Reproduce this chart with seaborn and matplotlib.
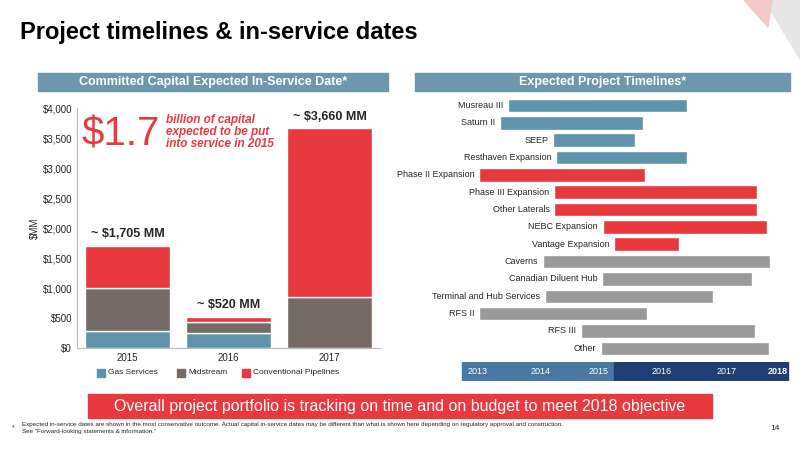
import matplotlib
matplotlib.use("Agg")
import matplotlib.pyplot as plt
import seaborn as sns
import numpy as np
import pandas as pd
from matplotlib.patches import Rectangle, Polygon

years = ["2015", "2016", "2017"]
gas = [280, 250, 0]
mid = [720, 180, 850]
conv = [705, 90, 2810]
totals = ["~ $1,705 MM", "~ $520 MM", "~ $3,660 MM"]

projects = ["Musreau III", "Saturn II", "SEEP", "Resthaven Expansion", "Phase II Expansion",
            "Phase III Expansion", "Other Laterals", "NEBC Expansion", "Vantage Expansion",
            "Caverns", "Canadian Diluent Hub", "Terminal and Hub Services", "RFS II", "RFS III", "Other"]
starts = [2013.50, 2013.37, 2014.25, 2014.30, 2013.02, 2014.27, 2014.27, 2015.08, 2015.27,
          2014.08, 2015.07, 2014.12, 2013.02, 2014.72, 2015.05]
ends = [2016.48, 2015.75, 2015.62, 2016.48, 2015.78, 2017.65, 2017.65, 2017.82, 2016.35,
        2017.87, 2017.57, 2016.92, 2015.82, 2017.62, 2017.85]
groups = ["Gas"] * 4 + ["Conv"] * 5 + ["Mid"] * 6
timeline_labels = ["2013", "2014", "2015", "2016", "2017", "2018"]

BLUE = "#5e93ab"; BROWN = "#756a65"; RED = "#e8393f"; GRAY = "#9a9a9a"; HDR = "#6d97ad"
gcol = {"Gas": BLUE, "Conv": RED, "Mid": GRAY}

sns.set_style("white")
plt.rcParams['font.family'] = ['Liberation Sans', 'DejaVu Sans']
fig = plt.figure(figsize=(8, 4.5), dpi=100)
W, H = 800, 450
def ax_px(x0, y0, x1, y1):
    return fig.add_axes([x0 / W, 1 - y1 / H, (x1 - x0) / W, (y1 - y0) / H])

fig.text(20 / W, 1 - 32 / H, "Project timelines & in-service dates", fontsize=17, fontweight="bold",
         va="center", ha="left", color="black")
fig.patches.append(Polygon([[0.955, 1], [1, 1], [1, 0.87]], closed=True, transform=fig.transFigure,
                           color="#e6e6e6"))
fig.patches.append(Polygon([[0.93, 1], [0.965, 1], [0.96, 0.94]], closed=True, transform=fig.transFigure,
                           color="#f2c8c8"))

for (x0, x1, t) in [(38, 388, "Committed Capital Expected In-Service Date*"),
                    (415, 790, "Expected Project Timelines*")]:
    fig.patches.append(Rectangle((x0 / W, 1 - 91 / H), (x1 - x0) / W, 18 / H, transform=fig.transFigure,
                                 color=HDR))
    fig.text((x0 + x1) / 2 / W, 1 - 82 / H, t, color="white", fontsize=9, fontweight="bold",
             ha="center", va="center")

ax = ax_px(77, 108, 380, 348)
df = pd.DataFrame({"year": years, "gas": gas, "mid": mid, "conv": conv})
bot2 = np.array(gas) + np.array(mid)
sns.barplot(data=df, x="year", y="gas", color=BLUE, width=0.85, ax=ax, saturation=1)
sns.barplot(data=df, x="year", y="mid", color=BROWN, width=0.85, ax=ax, saturation=1, bottom=gas)
sns.barplot(data=df, x="year", y="conv", color=RED, width=0.85, ax=ax, saturation=1, bottom=bot2)
ax.set_ylim(0, 4000)
ax.set_yticks(range(0, 4001, 500))
ax.set_yticklabels([f"${v:,}" for v in range(0, 4001, 500)], fontsize=7)
ax.tick_params(axis="x", labelsize=7, length=0)
ax.tick_params(axis="y", length=0)
ax.set_xlabel("")
ax.set_ylabel("$MM", fontsize=7, labelpad=2)
for s in ["top", "right"]:
    ax.spines[s].set_visible(False)
ax.spines["left"].set_color("#bbbbbb"); ax.spines["bottom"].set_color("#bbbbbb")
tot = np.array(gas) + np.array(mid) + np.array(conv)
for i, t in enumerate(totals):
    ax.text(i, tot[i] + 90, t, ha="center", va="bottom", fontsize=9, fontweight="bold")
ax.text(-0.46, 3560, "$1.7", color=RED, fontsize=29, va="center", ha="left")
ax.text(0.38, 3600, "billion of capital\nexpected to be put\ninto service in 2015", color=RED,
        fontsize=8.5, fontweight="bold", style="italic", va="center", ha="left", linespacing=1.0)
for (lx, lab, c) in [(97, "Gas Services", BLUE), (177, "Midstream", BROWN), (242, "Conventional Pipelines", RED)]:
    fig.patches.append(Rectangle((lx / W, 1 - 377 / H), 8 / W, 8 / H, transform=fig.transFigure, color=c))
    fig.text((lx + 11) / W, 1 - 373 / H, lab, fontsize=6, va="center")

axg = ax_px(395, 95, 800, 357)
px = lambda x: 2013 + (x - 478) / 60.0
axg.set_xlim(px(395), px(800))
axg.set_ylim(len(projects) - 0.5, -0.6)
for i, (p, s, e, g) in enumerate(zip(projects, starts, ends, groups)):
    axg.barh(i, e - s, left=s, height=0.78, color=gcol[g])
    axg.text(s - 0.08, i, p, ha="right", va="center", fontsize=6.5)
axg.axis("off")

axt = ax_px(395, 362, 800, 381)
axt.set_xlim(px(395), px(800)); axt.set_ylim(0, 1)
axt.add_patch(Rectangle((px(462), 0.0), px(614) - px(462), 1, color="#4a78a3"))
axt.add_patch(Rectangle((px(614), 0.0), px(788) - px(614), 1, color="#1f3f73"))
tl_x = [478, 541, 599, 662, 727, 778]
for lx, lab in zip(tl_x, timeline_labels):
    axt.text(px(lx), 0.5, lab, color="white", fontsize=6.5, ha="center", va="center",
             fontweight="bold" if lab == "2018" else "normal")
axt.axis("off")

fig.patches.append(Rectangle((88 / W, 1 - 418 / H), 624 / W, 24 / H, transform=fig.transFigure, color=RED))
fig.text(400 / W, 1 - 406 / H, "Overall project portfolio is tracking on time and on budget to meet 2018 objective",
         color="white", fontsize=11.5, ha="center", va="center")
fig.text(12 / W, 1 - 428 / H, "*", fontsize=5, va="center")
fig.text(22 / W, 1 - 428 / H, "Expected in-service dates are shown in the most conservative outcome. Actual capital in-service dates may be different than what is shown here depending on regulatory approval and construction.\nSee \"Forward-looking statements & information.\"",
         fontsize=4.5, va="center", linespacing=1.3)
fig.text(780 / W, 1 - 429 / H, "14", fontsize=6, va="center", ha="right")

fig.savefig("out.png", dpi=100)
